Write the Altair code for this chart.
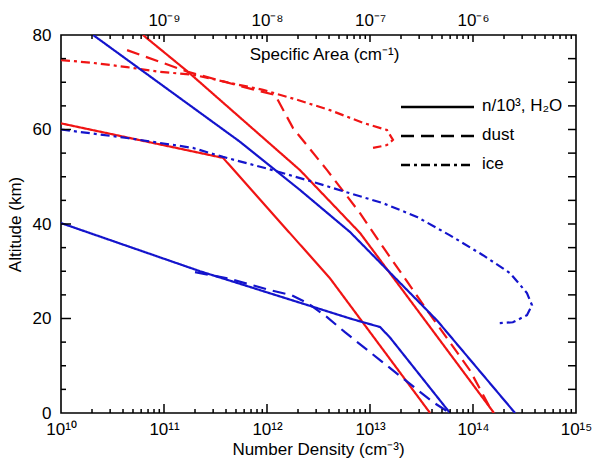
import json

import altair as alt
import pandas as pd

# Profiles: number density (cm^-3) against altitude (km)
red_n_nd = [6.25e10, 1.71e11, 2.09e12, 8.0e12, 1.60e14]
red_n_alt = [80, 72.2, 51.4, 38.1, 0]

red_h2o_nd = [1.0e10, 3.74e11, 4.09e12, 3.83e13]
red_h2o_alt = [61.3, 54.0, 28.5, 0]

red_dust_nd = [4.38e10, 1.71e11, 5.47e11, 1.20e12, 1.79e12, 3.83e12, 8.0e12,
               1.34e13, 3.57e13, 9.35e13, 1.56e14]
red_dust_alt = [76.8, 72.2, 69.2, 67.3, 60.3, 51.4, 42.3, 35.1, 21.8, 9.0, 0]

red_ice_nd = [1.0e10, 2.05e10, 4.38e10, 9.14e10, 1.91e11, 5.47e11, 9.14e11,
              1.95e12, 4.09e12, 8.55e12, 1.46e13, 1.67e13, 1.46e13, 1.07e13]
red_ice_alt = [74.7, 74.1, 73.2, 72.2, 71.6, 69.4, 68.4, 66.3, 64.1, 61.4,
               59.9, 57.8, 56.7, 56.1]

blue_n_nd = [2.05e10, 5.47e11, 2.09e12, 6.40e12, 4.47e13, 2.56e14]
blue_n_alt = [80, 57.4, 47.2, 38.3, 19.6, 0]

blue_h2o_nd = [1.0e10, 2.24e11, 6.40e12, 1.25e13, 1.56e13, 5.98e13]
blue_h2o_alt = [40.2, 30.0, 20.0, 18.2, 16.0, 0]

blue_dust_nd = [2.00e11, 4.18e11, 1.07e12, 1.75e12, 2.50e12, 3.83e12, 5.71e12,
                1.25e13, 4.09e13, 5.98e13]
blue_dust_alt = [29.8, 28.5, 26.0, 24.9, 23.2, 20.3, 17.1, 11.2, 2.3, 0]

blue_ice_nd = [1.0e10, 4.38e10, 1.91e11, 3.74e11, 1.14e12, 2.80e12, 6.40e12,
               1.34e13, 2.86e13, 5.98e13, 1.25e14, 2.29e14, 3.34e14, 3.74e14,
               3.34e14, 2.44e14, 1.71e14]
blue_ice_alt = [60.0, 58.2, 56.1, 54.2, 51.4, 48.9, 46.5, 44.4, 41.5, 37.6,
                33.4, 29.6, 25.4, 22.8, 20.7, 19.2, 19.0]

# Axis tick values and labels
x_labelled = [1e10, 1e11, 1e12, 1e13, 1e14, 1e15]
x_major = [1e11, 1e12, 1e13, 1e14]
x_minor = [m * 10 ** e for e in range(10, 15) for m in range(2, 10)]
bottom_labels = ["10¹⁰", "10¹¹", "10¹²", "10¹³", "10¹⁴", "10¹⁵"]
top_labels = ["", "10⁻⁹", "10⁻⁸", "10⁻⁷", "10⁻⁶", ""]
y_labelled = [0, 20, 40, 60, 80]
y_major = [20, 40, 60]
y_minor = [5, 10, 15, 25, 30, 35, 45, 50, 55, 65, 70, 75]
y_right = [5, 10, 15, 20, 25, 30, 35, 40, 45, 50, 55, 60, 65, 70, 75]

legend_labels = ["n/10³, H₂O", "dust", "ice"]

RED = "#f01414"
BLUE = "#1414cc"
FONT = "Liberation Sans"
W, H = 515, 378

profiles = [
    ("red_n", red_n_nd, red_n_alt, RED, "solid"),
    ("red_h2o", red_h2o_nd, red_h2o_alt, RED, "solid"),
    ("red_dust", red_dust_nd, red_dust_alt, RED, "dashed"),
    ("red_ice", red_ice_nd, red_ice_alt, RED, "dashdot"),
    ("blue_n", blue_n_nd, blue_n_alt, BLUE, "solid"),
    ("blue_h2o", blue_h2o_nd, blue_h2o_alt, BLUE, "solid"),
    ("blue_dust", blue_dust_nd, blue_dust_alt, BLUE, "dashed"),
    ("blue_ice", blue_ice_nd, blue_ice_alt, BLUE, "dashdot"),
]

rows = []
for name, nds, alts, color, style in profiles:
    for i, (nd, a) in enumerate(zip(nds, alts)):
        rows.append({"series": name, "nd": nd, "alt": a, "color": color,
                     "style": style, "idx": i})
df = pd.DataFrame(rows)

DASHES = {"solid": [1, 0], "dashed": [13, 7], "dashdot": [9, 4, 3, 4]}

x_scale = alt.Scale(type="log", domain=[1e10, 1e15], nice=False)
y_scale = alt.Scale(domain=[0, 80], nice=False, zero=False)


def label_expr(labels):
    arr = json.dumps(labels, ensure_ascii=False)
    return f"{arr}[round(log(datum.value) / LN10) - 10]"


lines = alt.Chart(df).mark_line(strokeWidth=2.2, clip=True).encode(
    x=alt.X("nd:Q", scale=x_scale, axis=alt.Axis(
        orient="bottom", values=x_labelled, ticks=False, tickSize=0,
        labelExpr=label_expr(bottom_labels), labelPadding=8,
        labelFontSize=17, labelOverlap=False, labelFlush=False,
        title="Number Density (cm⁻³)", titleFontSize=17,
        titleX=257, titleY=41, titleAlign="center",
        titleBaseline="alphabetic")),
    y=alt.Y("alt:Q", scale=y_scale, axis=alt.Axis(
        orient="left", values=y_labelled, ticks=False, tickSize=0,
        labelPadding=10, labelFontSize=17, title="Altitude (km)",
        titleFontSize=17, titleAngle=270, titleX=-46, titleY=189,
        titleAlign="center", titleBaseline="middle")),
    color=alt.Color("color:N", scale=None),
    strokeDash=alt.StrokeDash("style:N", scale=alt.Scale(
        domain=list(DASHES), range=list(DASHES.values())), legend=None),
    detail="series:N",
    order="idx:Q",
)

# Top axis: specific area labels on the same log positions
top_axis = alt.Chart(df).mark_point(opacity=0).encode(
    x=alt.X("nd:Q", scale=x_scale, axis=alt.Axis(
        orient="top", values=x_labelled, ticks=False, tickSize=0,
        labelExpr=label_expr(top_labels), labelPadding=6, labelFontSize=17,
        labelOverlap=False, labelFlush=False,
        title="Specific Area (cm⁻¹)", titleFontSize=17,
        titleX=263, titleY=24, titleAlign="center",
        titleBaseline="alphabetic")),
    y=alt.Y("alt:Q", scale=y_scale, axis=None),
)

# Inward-pointing tick marks on all four sides
TICK = dict(color="black", strokeWidth=1.5)


def x_ticks(values, y0, y1):
    return alt.Chart(pd.DataFrame({"v": values})).mark_rule(**TICK).encode(
        x=alt.X("v:Q", scale=x_scale, axis=None),
        y=alt.value(y0), y2=alt.value(y1))


def y_ticks(values, x0, x1):
    return alt.Chart(pd.DataFrame({"v": values})).mark_rule(**TICK).encode(
        y=alt.Y("v:Q", scale=y_scale, axis=None),
        x=alt.value(x0), x2=alt.value(x1))


tick_layers = [
    x_ticks(x_major, H, H - 9),
    x_ticks(x_minor, H, H - 4),
    x_ticks(x_major, 0, 7),
    x_ticks(x_minor, 0, 4),
    y_ticks(y_major, 0, 10),
    y_ticks(y_minor, 0, 5),
    y_ticks(y_right, W, W - 8),
]

# Line-style key drawn inside the plot area, one row per entry
key_layers = []
for k, (style, label) in enumerate(zip(DASHES, legend_labels)):
    ypos = 72 + 29 * k
    entry = pd.DataFrame({"label": [label]})
    key_layers.append(
        alt.Chart(entry).mark_rule(color="black", strokeWidth=2.6,
                                   strokeDash=DASHES[style]).encode(
            x=alt.value(340), x2=alt.value(413), y=alt.value(ypos)))
    key_layers.append(
        alt.Chart(entry).mark_text(align="left", baseline="middle",
                                   fontSize=17, font=FONT,
                                   color="black").encode(
            x=alt.value(421), y=alt.value(ypos - 1), text="label:N"))

chart = alt.layer(lines, top_axis, *tick_layers, *key_layers).resolve_axis(
    x="independent", y="independent"
).properties(
    width=W, height=H,
    autosize=alt.AutoSizeParams(type="none"),
    padding={"left": 61, "top": 35, "right": 18, "bottom": 47},
).configure_view(
    stroke="black", strokeWidth=1.6
).configure_axis(
    grid=False, domain=False, labelColor="black", titleColor="black",
    labelFont=FONT, titleFont=FONT, titleFontWeight="normal",
)

chart.save("out.html", embed_options={"renderer": "svg", "actions": False})
